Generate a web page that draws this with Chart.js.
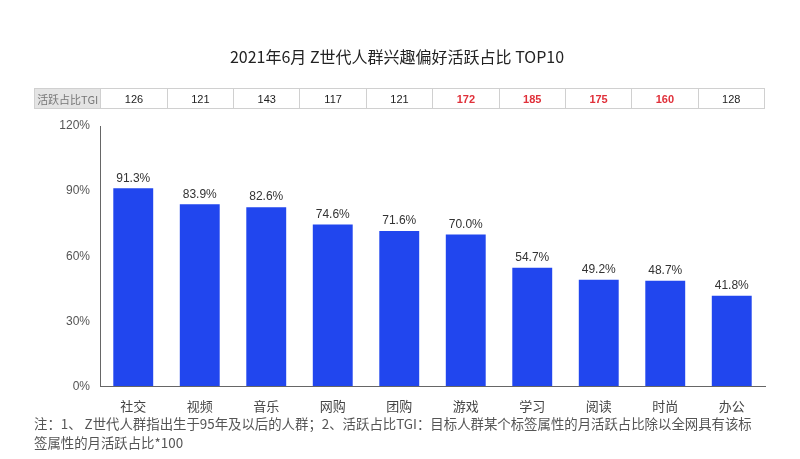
<!DOCTYPE html>
<html>
<head>
<meta charset="utf-8">
<script src="https://cdn.jsdelivr.net/npm/chart.js@4"></script>
<style>
  body { margin: 0; background: #fff; font-family: "Noto Sans CJK SC", "Noto Sans", sans-serif; }
  #wrap { position: relative; width: 800px; height: 459px; overflow: hidden; }
  #chart { position: absolute; left: 0; top: 0; }
  #title { position: absolute; left: 0; width: 794px; top: 44px; text-align: center; font-size: 16px; color: #222; }
  #tgi { position: absolute; left: 34px; top: 88px; width: 731px; table-layout: fixed; border-collapse: collapse; font-family: Arial, "Liberation Sans", sans-serif; }
  #tgi td { border: 1px solid #d0d0d0; height: 19px; padding: 0; text-align: center; font-size: 11px; color: #222; }
  #tgi td.head { background: #e4e4e4; color: #777; font-family: "Noto Sans CJK SC", sans-serif; font-size: 11px; }
  #tgi td.hi { color: #e0303a; font-weight: bold; }
  #note { position: absolute; left: 34px; top: 414px; font-size: 13.4px; color: #555; line-height: 19px; white-space: nowrap; }
</style>
</head>
<body>
<div id="wrap">
  <canvas id="chart" width="800" height="459"></canvas>
  <div id="title">2021年6月 Z世代人群兴趣偏好活跃占比 TOP10</div>
  <table id="tgi"><tr id="tgiRow"></tr></table>
  <div id="note">注：1、 Z世代人群指出生于95年及以后的人群；2、活跃占比TGI：目标人群某个标签属性的月活跃占比除以全网具有该标<br>签属性的月活跃占比*100</div>
</div>
<script>
const categories = ['社交', '视频', '音乐', '网购', '团购', '游戏', '学习', '阅读', '时尚', '办公']
const activeShare = [91.3, 83.9, 82.6, 74.6, 71.6, 70.0, 54.7, 49.2, 48.7, 41.8]
const tgiValues = [126, 121, 143, 117, 121, 172, 185, 175, 160, 128]
const tgiHighlighted = [false, false, false, false, false, true, true, true, true, false]
const yTicks = [0, 30, 60, 90, 120]

// TGI row above the chart
const row = document.getElementById('tgiRow')
const head = document.createElement('td')
head.className = 'head'
head.textContent = '活跃占比TGI'
row.appendChild(head)
tgiValues.forEach((v, i) => {
  const td = document.createElement('td')
  if (tgiHighlighted[i]) td.className = 'hi'
  td.textContent = v
  row.appendChild(td)
})

// value labels above each bar
const barLabels = {
  id: 'barLabels',
  afterDatasetsDraw(chart) {
    const ctx = chart.ctx
    const meta = chart.getDatasetMeta(0)
    ctx.save()
    ctx.font = '12px Arial, "Liberation Sans", sans-serif'
    ctx.fillStyle = '#333'
    ctx.textAlign = 'center'
    ctx.textBaseline = 'bottom'
    meta.data.forEach((bar, i) => {
      ctx.fillText(activeShare[i].toFixed(1) + '%', bar.x, bar.y - 4)
    })
    ctx.restore()
  }
}

new Chart(document.getElementById('chart'), {
  type: 'bar',
  data: {
    labels: categories,
    datasets: [{
      data: activeShare,
      backgroundColor: '#2146ee',
      categoryPercentage: 0.6,
      barPercentage: 1.0
    }]
  },
  options: {
    responsive: false,
    animation: false,
    layout: { padding: { left: 34, right: 35, top: 126, bottom: 33 } },
    plugins: { legend: { display: false }, tooltip: { enabled: false } },
    scales: {
      x: {
        grid: { display: true, drawOnChartArea: false, drawTicks: false },
        border: { display: true, color: '#666', width: 1 },
        ticks: { color: '#444', font: { size: 13, family: '"Noto Sans CJK SC", sans-serif' }, padding: 12 }
      },
      y: {
        min: 0,
        max: 120,
        afterFit(scale) { scale.width = 66 },
        afterBuildTicks(scale) { scale.ticks = yTicks.map(v => ({ value: v })) },
        grid: { display: true, drawOnChartArea: false, drawTicks: false },
        border: { display: true, color: '#666', width: 1 },
        ticks: {
          color: '#555',
          font: { size: 12, family: 'Arial, "Liberation Sans", sans-serif' },
          padding: 10,
          callback: v => v + '%'
        }
      }
    }
  },
  plugins: [barLabels]
})
</script>
</body>
</html>
